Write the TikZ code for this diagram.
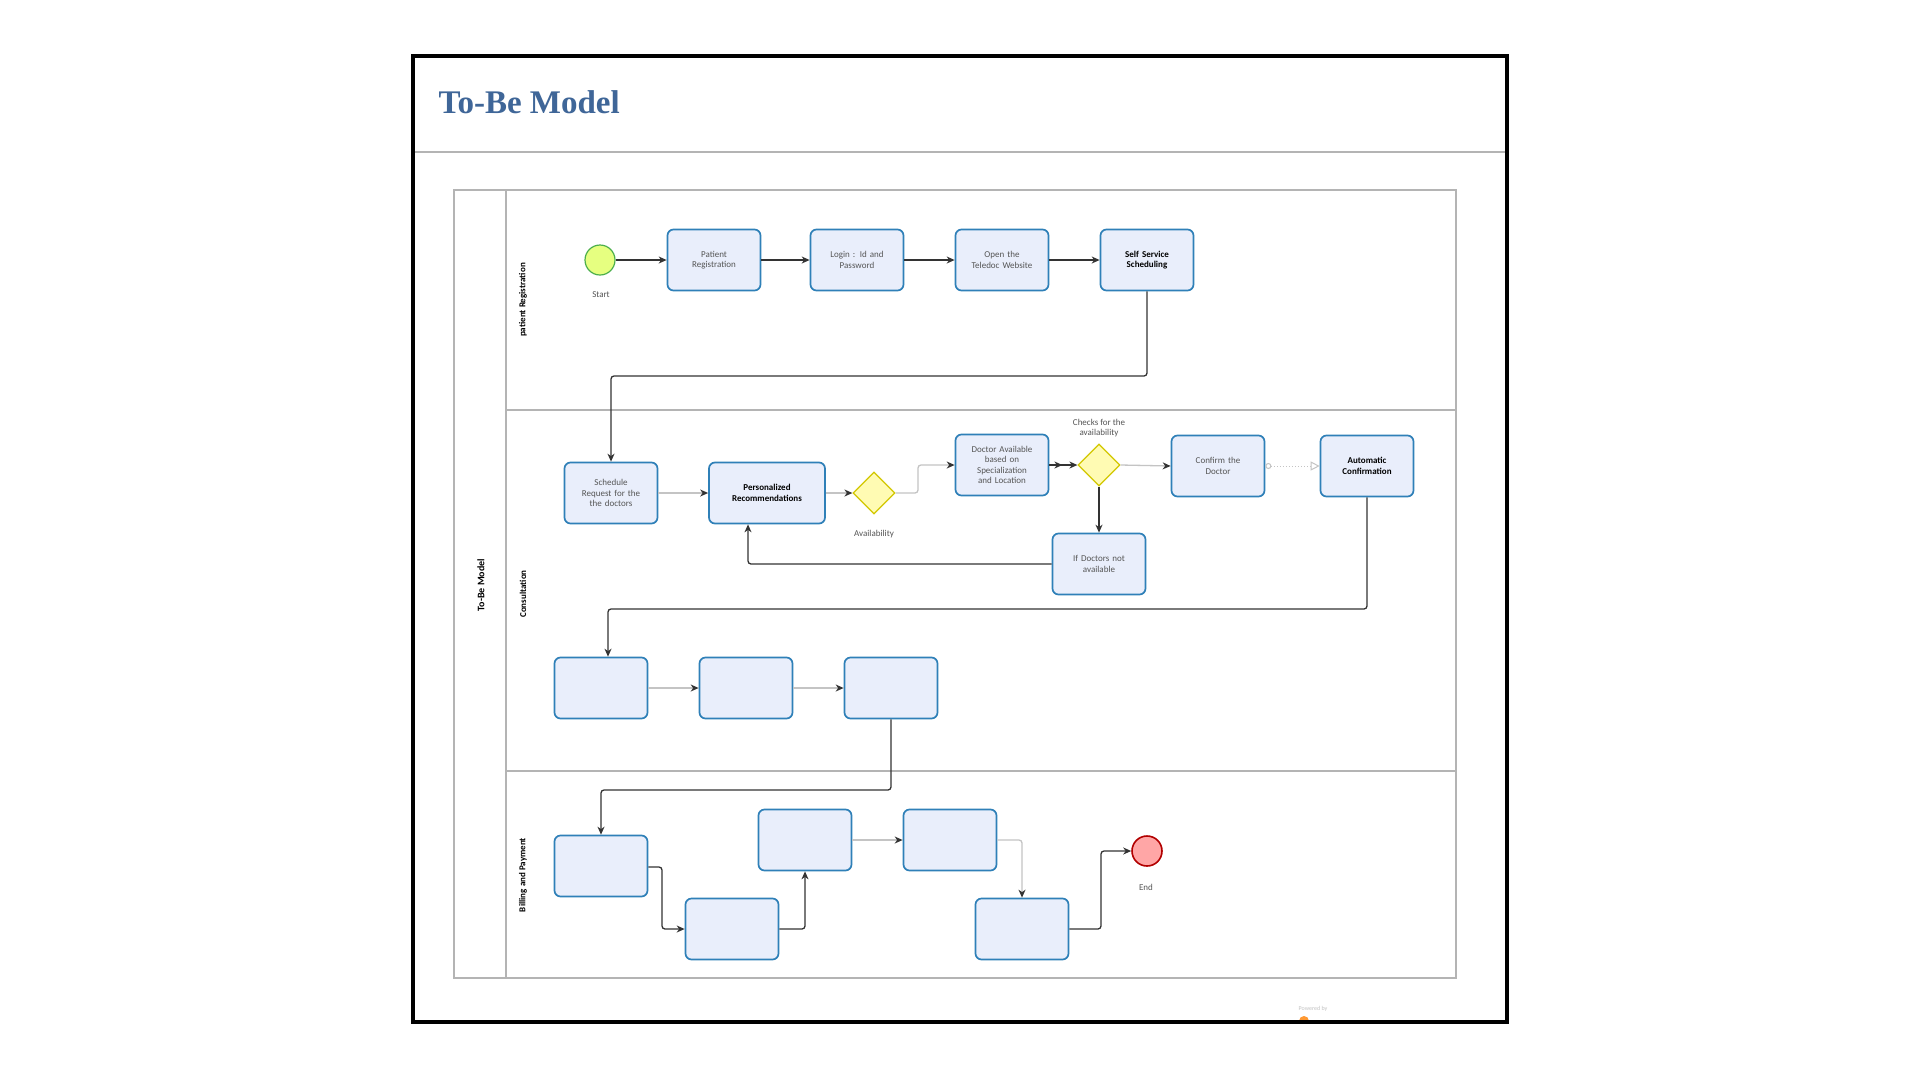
\documentclass[tikz,border=0pt]{standalone}
\usepackage{fontspec}
\setmainfont{Carlito}
\newfontfamily\titlefont{Liberation Serif}
\usetikzlibrary{arrows.meta,shapes.geometric}
\definecolor{taskblue}{HTML}{2F80B8}
\definecolor{taskfill}{HTML}{E9EEFB}
\definecolor{txtgray}{HTML}{555555}
\definecolor{titleblue}{HTML}{3F6698}
\definecolor{lanegray}{HTML}{B4B4B4}
\definecolor{lightline}{HTML}{C4C4C4}
\definecolor{darkline}{HTML}{333333}
\tikzset{
  task/.style={draw=taskblue, fill=taskfill, line width=1.7pt, rounded corners=6pt,
    minimum width=93pt, minimum height=61pt, text width=84pt, inner sep=2pt,
    align=center, text=txtgray, font=\fontsize{9}{10.5}\selectfont},
  boldtask/.style={task, text=black, font=\bfseries\fontsize{9}{10.5}\selectfont},
  gateway/.style={diamond, draw=yellow!60!olive, fill=yellow!30, line width=1.2pt,
    minimum width=42pt, minimum height=42pt, inner sep=0pt, aspect=1},
  conn/.style={draw=darkline, line width=1.3pt, rounded corners=3pt,
    -{Stealth[length=8pt,width=7pt,inset=2.5pt,color=darkline]}},
  lconn/.style={conn, draw=lightline},
  lbl/.style={text=txtgray, font=\fontsize{9}{10.5}\selectfont, align=center},
  lanelbl/.style={rotate=90, font=\bfseries\fontsize{9}{10}\selectfont},
}
\begin{document}
\begin{tikzpicture}[x=1pt,y=-1pt]
\useasboundingbox (0,0) rectangle (1920,1080);
\fill[white] (0,0) rectangle (1920,1080);
% frame and title
\fill[orange!80] (1299,1021) arc[start angle=180, end angle=0, radius=5pt] -- cycle;
\draw[black, line width=3.5pt] (413,56) rectangle (1507,1022);
\draw[lanegray, line width=1.2pt] (415,152) -- (1505,152);
\node[anchor=west, text=titleblue, font=\titlefont\bfseries\fontsize{33}{35}\selectfont] (title) at (435,102) {To-Be Model};
\node[text=lanegray!80, font=\fontsize{6}{7}\selectfont] (powered) at (1313,1009) {Powered by};
% pool and lanes
\draw[lanegray, line width=1.6pt] (454,190) rectangle (1456,978);
\draw[lanegray, line width=1.6pt] (506,190) -- (506,978);
\draw[lanegray, line width=1.2pt] (506,410) -- (1456,410);
\draw[lanegray, line width=1.2pt] (506,771) -- (1456,771);
\node[lanelbl, font=\bfseries\fontsize{10}{11}\selectfont] (pool) at (481,585) {To-Be Model};
\node[lanelbl] (lane1) at (523,300) {patient Registration};
\node[lanelbl] (lane2) at (523,594) {Consultation};
\node[lanelbl] (lane3) at (523,875) {Billing and Payment};
% lane 1
\node[circle, draw=green!55!black!70, fill=green!20!yellow!50, line width=1.2pt, minimum size=30pt, inner sep=0pt] (start) at (600,260) {};
\node[lbl] (startl) at (601,295) {Start};
\node[task] (t1) at (714,260) {Patient\\Registration};
\node[task] (t2) at (857,260) {Login : Id and\\Password};
\node[task] (t3) at (1002,260) {Open the\\Teledoc Website};
\node[boldtask] (t4) at (1147,260) {Self Service\\Scheduling};
% lane 2
\node[task] (s1) at (611,493) {Schedule\\Request for the\\the doctors};
\node[boldtask, minimum width=116pt, text width=106pt] (pr) at (767,493) {Personalized\\Recommendations};
\node[gateway] (g1) at (874,493) {};
\node[lbl] (g1l) at (874,534) {Availability};
\node[task] (da) at (1002,465) {Doctor Available\\based on\\Specialization\\and Location};
\node[gateway] (g2) at (1099,465) {};
\node[lbl] (g2l) at (1099,428) {Checks for the\\availability};
\node[task] (nd) at (1099,564) {If Doctors not\\available};
\node[task] (cd) at (1218,466) {Confirm the\\Doctor};
\node[boldtask] (ac) at (1367,466) {Automatic\\Confirmation};
\node[task] (e1) at (601,688) {};
\node[task] (e2) at (746,688) {};
\node[task] (e3) at (891,688) {};
% lane 3
\node[task] (b1) at (601,866) {};
\node[task] (b2) at (732,929) {};
\node[task] (b3) at (805,840) {};
\node[task] (b4) at (950,840) {};
\node[task] (b5) at (1022,929) {};
\node[circle, draw=red!70!black, fill=red!35, line width=1.6pt, minimum size=30pt, inner sep=0pt] (end) at (1147,851) {};
\node[lbl] (endl) at (1146,887) {End};
% routing points
\coordinate (c1) at (1147,376);
\coordinate (c2) at (918,493);
\coordinate (c3) at (1367,609);
\coordinate (c4) at (891,790);
\coordinate (c5) at (662,867);
\coordinate (c6) at (1101,929);
% connectors
\draw[conn] (start) -- (t1);
\draw[conn] (t1) -- (t2);
\draw[conn] (t2) -- (t3);
\draw[conn] (t3) -- (t4);
\draw[conn] (t4.south) -- (c1) -| (s1.north);
\draw[lconn] (s1) -- (pr);
\draw[lconn] (pr) -- (g1);
\draw[lconn] (g1.east) -- (c2) |- (da.west);
\draw[conn, -{Stealth[length=8pt,width=7pt,inset=2.5pt,sep=7pt]Stealth[length=8pt,width=7pt,inset=2.5pt]}] (da.east) -- (g2.west);
\draw[conn] (g2.south) -- (nd.north);
\draw[conn] (nd.west) -| ([xshift=-19pt]pr.south);
\draw[lconn] (g2.east) -- (cd.west);
\draw[lightline, line width=1pt, dotted, {Circle[open,length=6pt,fill=white]}-{Triangle[open,length=9pt,width=9pt]}] (cd.east) -- (ac.west);
\draw[conn] (ac.south) -- (c3) -| ([xshift=7pt]e1.north);
\draw[lconn] (e1) -- (e2);
\draw[lconn] (e2) -- (e3);
\draw[conn] (e3.south) -- (c4) -| (b1.north);
\draw[conn] (b1.east |- c5) -- (c5) |- (b2.west);
\draw[conn] (b2.east) -| (b3.south);
\draw[lconn] (b3) -- (b4);
\draw[lconn] (b4.east) -| (b5.north);
\draw[conn] (b5.east) -- (c6) |- (end.west);
\end{tikzpicture}
\end{document}
